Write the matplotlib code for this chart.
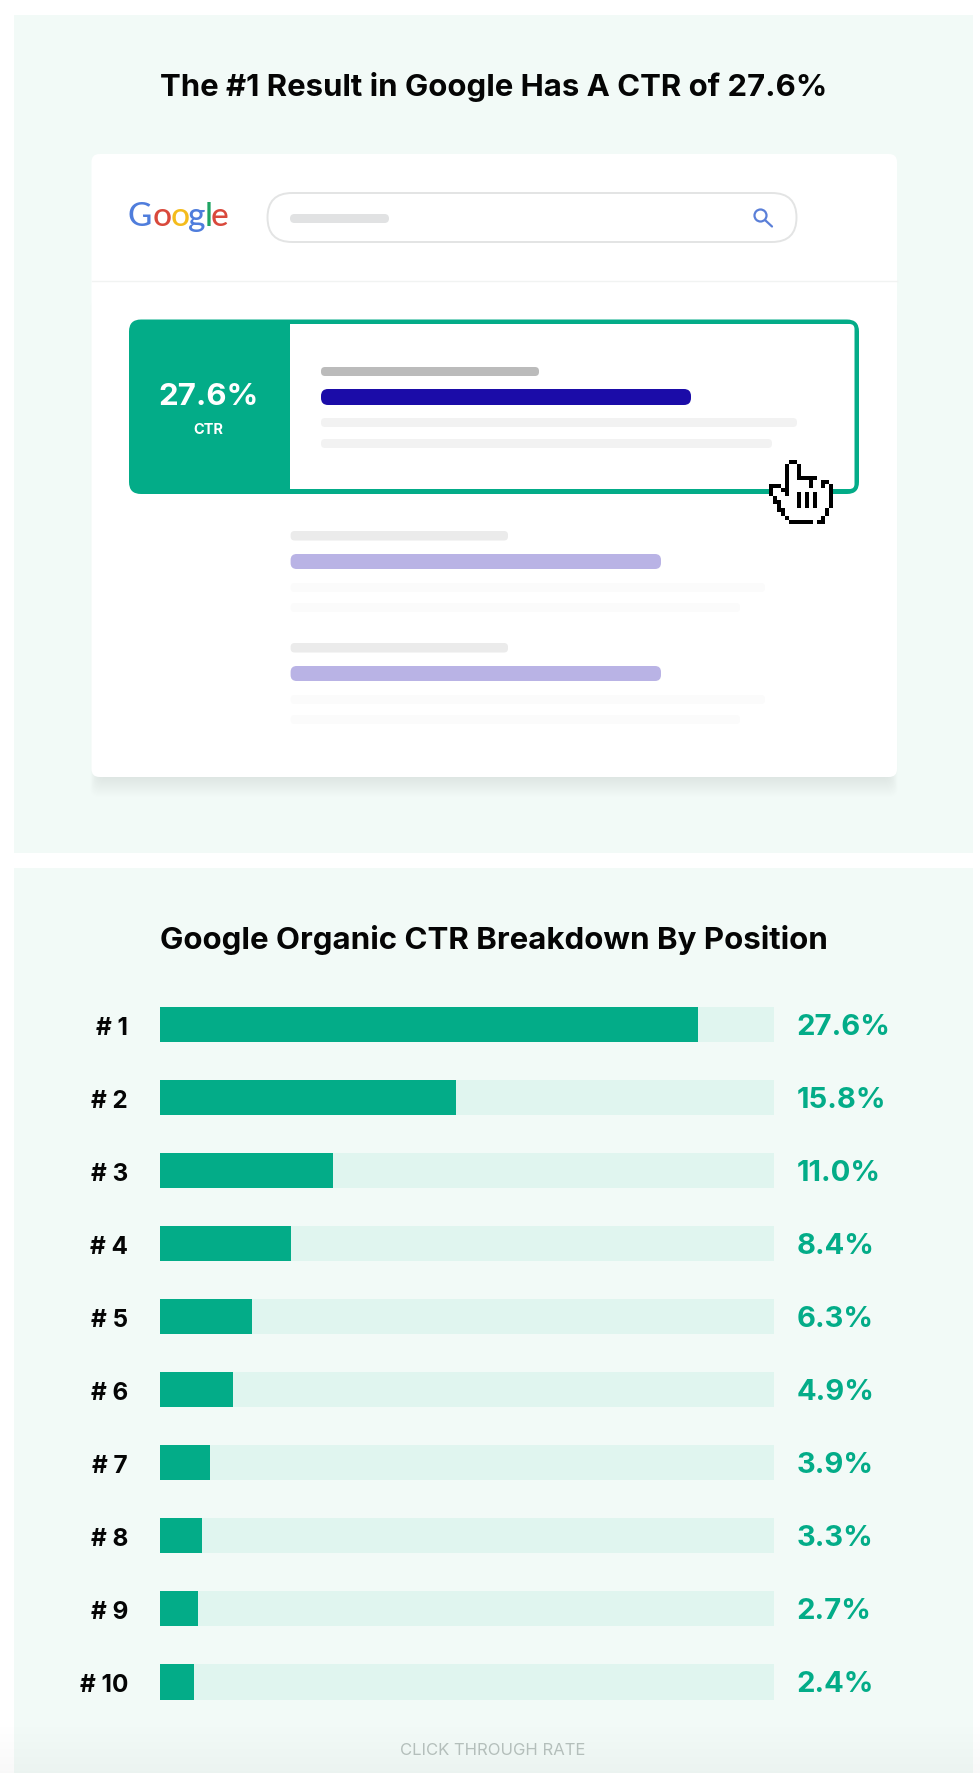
import matplotlib
matplotlib.use('Agg')
import matplotlib.pyplot as plt
import numpy as np
from matplotlib.patches import FancyBboxPatch, Rectangle, Circle

plt.rcParams['font.family'] = ['Inter', 'Roboto', 'DejaVu Sans']

# Data
positions = ['# 1', '# 2', '# 3', '# 4', '# 5', '# 6', '# 7', '# 8', '# 9', '# 10']
ctr_values = [27.6, 15.8, 11.0, 8.4, 6.3, 4.9, 3.9, 3.3, 2.7, 2.4]
# the bars are not to scale with the labels, so their length (% of the track) is kept apart
bar_lengths = [87.6, 48.2, 28.1, 21.3, 15.0, 11.9, 8.1, 6.8, 6.2, 5.6]
track_length = [100] * 10

google_letters = ['G', 'o', 'o', 'g', 'l', 'e']
google_colors = ['#4F7DDC', '#D9493C', '#F4BC1C', '#4F7DDC', '#1FA463', '#D9493C']
google_x = [140, 162, 180, 197, 208.5, 219.5]

# pointer icon, one character per pixel block
hand_rows = [
    "     ##         ",
    "    #..#        ",
    "    #..#        ",
    "    #..#        ",
    "    #..#####    ",
    "    #.....#..## ",
    "### #.....#..#.#",
    "#..##..........#",
    "#...#..#.#.#...#",
    " #.....#.#.#...#",
    " ##....#.#.#...#",
    "  #....#.#.#...#",
    "  ##..........# ",
    "   #..........# ",
    "    #........#  ",
    "     ######.##  ",
]

green = '#03AC88'
track = '#E0F5EF'
panel = '#F2FAF7'


def rbox(ax, x0, y0, x1, y1, r, color, **kw):
    p = FancyBboxPatch((x0, y0), x1 - x0, y1 - y0,
                       boxstyle=f'round,pad=0,rounding_size={r}',
                       fc=kw.pop('fc', color), ec=kw.pop('ec', 'none'), **kw)
    ax.add_patch(p)
    return p


fig = plt.figure(figsize=(9.8, 17.74), dpi=100, facecolor='white')

# Full figure axes in pixels for the panels and the search page mock-up
bg = fig.add_axes([0, 0, 1, 1])
bg.set_xlim(0, 980)
bg.set_ylim(1774, 0)
bg.axis('off')

bg.add_patch(Rectangle((14, 16), 959, 838, fc=panel, ec='none'))
bg.add_patch(Rectangle((14, 869), 959, 905, fc=panel, ec='none'))

bg.text(493.5, 87, 'The #1 Result in Google Has A CTR of 27.6%', fontsize=22.4,
        fontweight='bold', ha='center', va='center', color='#050505')

# card with soft shadow, mostly below the card
for i in range(20):
    rbox(bg, 98 - i * 0.4, 300, 890 + i * 0.4, 778 + 1 + i, 8, '#30705C', alpha=0.003)
rbox(bg, 91.5, 155, 897, 778, 8, 'white')
bg.plot([91.5, 897], [281.5, 281.5], color='#F1F3F2', lw=1)

# Google logo
for letter, col, lx in zip(google_letters, google_colors, google_x):
    bg.text(lx, 226, letter, color=col, fontsize=24, ha='center', va='baseline',
            family=['Lato', 'DejaVu Sans'], fontweight='medium')

# search box
rbox(bg, 267.5, 194, 796.5, 243, 24.5, 'white', ec='#E3E4E4', lw=1.4)
rbox(bg, 290, 215, 389, 224, 4.5, '#E1E2E3')
bg.add_patch(Circle((760.5, 216.5), 6, fc='none', ec='#5A7FD8', lw=1.6))
bg.plot([765, 772], [221, 227.5], color='#5A7FD8', lw=1.6, solid_capstyle='round')

# highlighted first result
rbox(bg, 129, 320.5, 859, 495, 12, green)
rbox(bg, 290, 325, 854.5, 490, 5, 'white')
bg.add_patch(Rectangle((290, 325), 12, 165, fc='white', ec='none'))
bg.text(208.7, 397.5, '27.6%', color='white', fontsize=22.5, fontweight='bold', ha='center', va='center')
bg.text(208.7, 430, 'CTR', color='white', fontsize=10.5, fontweight='bold', ha='center', va='center')

rbox(bg, 321, 368, 539, 377, 4, '#BBBBBB')
rbox(bg, 321, 390, 691, 406, 7, '#1B0CA8')
rbox(bg, 321, 419, 797, 428, 4, '#F2F2F2')
rbox(bg, 321, 440, 772, 449, 4, '#F2F2F2')

# the two greyed out results
for top in [532, 644]:
    rbox(bg, 290.6, top, 508, top + 9.5, 4, '#EBEBEB')
    rbox(bg, 290.6, top + 23, 661, top + 38, 6, '#B9B3E5')
    rbox(bg, 290.6, top + 52, 765, top + 61, 4, '#FBFBFB')
    rbox(bg, 290.6, top + 72, 740, top + 81, 4, '#FBFBFB')

# pointer
colors = {' ': (0, 0, 0, 0), '#': (0, 0, 0, 1), '.': (1, 1, 1, 1)}
hand = np.array([[colors[c] for c in row] for row in hand_rows], dtype=float)
bg.imshow(hand, extent=(768.7, 832.7, 525, 461), interpolation='nearest', aspect='auto', zorder=5)
bg.set_xlim(0, 980)
bg.set_ylim(1774, 0)

bg.text(494, 940, 'Google Organic CTR Breakdown By Position', fontsize=22.5,
        fontweight='bold', ha='center', va='center', color='#050505')
bg.text(493, 1750.5, 'CLICK THROUGH RATE', fontsize=12, color='#B7C2BE',
        ha='center', va='center')

# screen-recording darkening along the bottom edge
fade = np.zeros((54, 1, 4))
fade[:, 0, 3] = np.linspace(0, 0.028, 54)
bg.imshow(fade, extent=(0, 980, 1774, 1720), aspect='auto', zorder=6)
bg.set_xlim(0, 980)
bg.set_ylim(1774, 0)

# Bar chart
ax = fig.add_axes([160 / 980, 1 - 1719.5 / 1774, 614.3 / 980, 730.5 / 1774])
ax.patch.set_alpha(0)
y = np.arange(len(positions))
ax.barh(y, track_length, height=0.48, color=track)
ax.barh(y, bar_lengths, height=0.48, color=green)
ax.set_xlim(0, 100)
ax.set_ylim(9.5, -0.5)
ax.set_yticks(y)
ax.set_yticklabels(positions, fontsize=17.5, fontweight='bold', color='#050505', va='center_baseline')
ax.tick_params(axis='y', length=0, pad=23)
ax.set_xticks([])
for s in ax.spines.values():
    s.set_visible(False)

for i, v in enumerate(ctr_values):
    ax.annotate(f'{v:.1f}%', xy=(100, i), xytext=(16, -1.2), textcoords='offset points',
                color=green, fontsize=21, fontweight='bold', va='center', ha='left')

fig.savefig('out.png', dpi=100, facecolor='white')
